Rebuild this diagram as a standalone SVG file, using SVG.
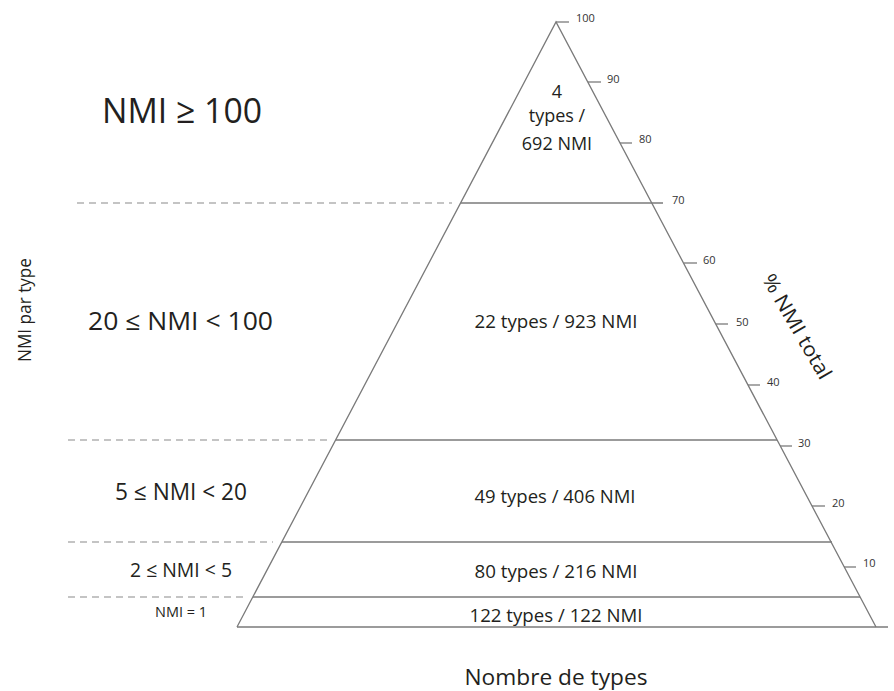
<svg xmlns="http://www.w3.org/2000/svg" width="894" height="691" viewBox="0 0 894 691">
<style>
.ln{stroke:#7a7a7a;stroke-width:1.3;fill:none}
.dash{stroke:#8a8a8a;stroke-width:1.2;stroke-dasharray:7 5;fill:none}
.tk{font-family:"Open Sans","Noto Sans",sans-serif;font-size:11px;fill:#333}
.t{font-family:"Open Sans","Noto Sans",sans-serif;fill:#231f20}
</style>
<rect width="894" height="691" fill="#fff"/>
<g id="pyramid">
<path class="ln" d="M237,627 L556,22 L876,627"/>
<line class="ln" x1="237" y1="627" x2="888" y2="627"/>
</g>
<g id="connectors">
<line class="ln" x1="461" y1="203" x2="663" y2="203"/>
<line class="ln" x1="336" y1="440" x2="777" y2="440"/>
<line class="ln" x1="282" y1="542" x2="832" y2="542"/>
<line class="ln" x1="253" y1="597" x2="860" y2="597"/>
<line class="dash" x1="77" y1="203" x2="452" y2="203"/>
<line class="dash" x1="68" y1="440" x2="327" y2="440"/>
<line class="dash" x1="68" y1="542" x2="273" y2="542"/>
<line class="dash" x1="68" y1="597" x2="243" y2="597"/>
</g>
<g id="axis-ticks">
<line class="ln" x1="556" y1="22" x2="569" y2="22"/>
<line class="ln" x1="588" y1="82" x2="601" y2="82"/>
<line class="ln" x1="620" y1="143" x2="632" y2="143"/>
<line class="ln" x1="684" y1="263" x2="697" y2="263"/>
<line class="ln" x1="716" y1="324" x2="728" y2="324"/>
<line class="ln" x1="748" y1="385" x2="760" y2="385"/>
<line class="ln" x1="780" y1="446" x2="792" y2="446"/>
<line class="ln" x1="812" y1="506" x2="825" y2="506"/>
<line class="ln" x1="844" y1="567" x2="856" y2="567"/>
<text class="tk" x="576" y="22">100</text>
<text class="tk" x="607" y="83">90</text>
<text class="tk" x="639" y="143">80</text>
<text class="tk" x="672" y="204">70</text>
<text class="tk" x="703" y="264">60</text>
<text class="tk" x="736" y="326">50</text>
<text class="tk" x="767" y="386">40</text>
<text class="tk" x="798" y="447">30</text>
<text class="tk" x="832" y="507">20</text>
<text class="tk" x="863" y="567">10</text>
</g>
<g id="tier1">
<text class="t" x="557" y="98" font-size="18" text-anchor="middle">4</text>
<text class="t" x="557" y="122" font-size="18" text-anchor="middle">types /</text>
<text class="t" x="557" y="150" font-size="18" text-anchor="middle">692 NMI</text>
</g>
<g id="tier2"><text class="t" x="556" y="328" font-size="18" text-anchor="middle" textLength="163" lengthAdjust="spacingAndGlyphs">22 types / 923 NMI</text></g>
<g id="tier3"><text class="t" x="555" y="503" font-size="18" text-anchor="middle" textLength="161" lengthAdjust="spacingAndGlyphs">49 types / 406 NMI</text></g>
<g id="tier4"><text class="t" x="556" y="578" font-size="18" text-anchor="middle" textLength="163" lengthAdjust="spacingAndGlyphs">80 types / 216 NMI</text></g>
<g id="tier5"><text class="t" x="556" y="622" font-size="18" text-anchor="middle" textLength="173" lengthAdjust="spacingAndGlyphs">122 types / 122 NMI</text></g>
<g id="labels-left">
<text class="t" x="102" y="123" font-size="35" textLength="160" lengthAdjust="spacingAndGlyphs">NMI ≥ 100</text>
<text class="t" x="88" y="330" font-size="25" textLength="185" lengthAdjust="spacingAndGlyphs">20 ≤ NMI &lt; 100</text>
<text class="t" x="115" y="500" font-size="23" textLength="132" lengthAdjust="spacingAndGlyphs">5 ≤ NMI &lt; 20</text>
<text class="t" x="130" y="577" font-size="20" textLength="102" lengthAdjust="spacingAndGlyphs">2 ≤ NMI &lt; 5</text>
<text class="t" x="155" y="617" font-size="14" textLength="52" lengthAdjust="spacingAndGlyphs">NMI = 1</text>
</g>
<g id="axis-labels">
<text class="t" font-size="18" text-anchor="middle" transform="translate(31,310) rotate(-90)" textLength="104" lengthAdjust="spacingAndGlyphs">NMI par type</text>
<text class="t" font-size="22" x="556" y="685" text-anchor="middle" textLength="183" lengthAdjust="spacingAndGlyphs">Nombre de types</text>
<text class="t" font-size="20" text-anchor="middle" transform="translate(791,330) rotate(60)" textLength="118" lengthAdjust="spacingAndGlyphs">% NMI total</text>
</g>
</svg>
